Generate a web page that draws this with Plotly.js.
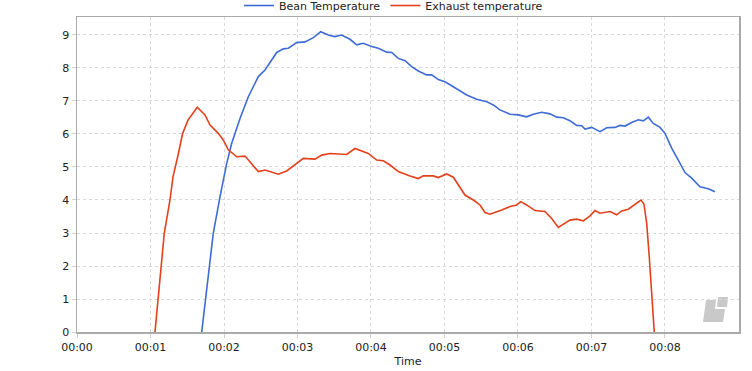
<!DOCTYPE html>
<html><head><meta charset="utf-8">
<script src="https://cdn.plot.ly/plotly-3.0.1.min.js"></script>
<style>html,body{margin:0;padding:0;background:#fff}#chart{width:752px;height:371px}</style>
</head><body><div id="chart"></div>
<script>
// time in minutes
const beanTime = [1.697,1.786,1.854,1.946,2.037,2.105,2.218,2.331,2.467,2.558,2.717,2.807,2.875,2.989,3.102,3.215,3.316,3.419,3.510,3.601,3.714,3.805,3.895,4.009,4.099,4.214,4.282,4.371,4.463,4.554,4.644,4.758,4.826,4.916,5.007,5.120,5.302,5.438,5.574,5.664,5.755,5.891,6.004,6.118,6.208,6.322,6.435,6.526,6.616,6.707,6.799,6.867,6.912,7.003,7.116,7.207,7.320,7.388,7.456,7.547,7.637,7.705,7.773,7.841,7.932,8.000,8.091,8.181,8.272,8.363,8.476,8.589,8.680];
const beanTemp = [0,1.68,2.99,4.10,5.11,5.72,6.47,7.13,7.74,7.94,8.47,8.58,8.60,8.77,8.79,8.92,9.10,9.00,8.95,9.00,8.87,8.70,8.75,8.65,8.60,8.48,8.47,8.29,8.22,8.04,7.91,7.79,7.79,7.65,7.58,7.43,7.18,7.05,6.98,6.88,6.73,6.60,6.58,6.52,6.60,6.66,6.61,6.51,6.49,6.40,6.26,6.25,6.15,6.20,6.07,6.19,6.20,6.26,6.24,6.35,6.43,6.40,6.51,6.32,6.20,6.02,5.57,5.21,4.83,4.66,4.40,4.34,4.25];
const exhaustTime = [1.061,1.116,1.188,1.265,1.306,1.370,1.438,1.510,1.637,1.741,1.810,1.922,1.990,2.059,2.173,2.286,2.354,2.467,2.558,2.671,2.739,2.853,2.966,3.079,3.238,3.329,3.442,3.669,3.782,3.873,3.963,4.078,4.167,4.259,4.371,4.531,4.643,4.712,4.848,4.916,5.030,5.120,5.188,5.279,5.392,5.483,5.551,5.619,5.778,5.891,5.982,6.037,6.118,6.231,6.367,6.458,6.548,6.616,6.707,6.799,6.888,6.980,7.048,7.116,7.252,7.343,7.411,7.501,7.615,7.673,7.714,7.751,7.786,7.819,7.854];
const exhaustTemp = [0,1.27,3.00,4.00,4.70,5.31,6.02,6.42,6.81,6.58,6.27,6.02,5.82,5.52,5.31,5.33,5.16,4.86,4.91,4.84,4.78,4.88,5.06,5.26,5.24,5.36,5.41,5.38,5.56,5.48,5.41,5.21,5.19,5.06,4.86,4.73,4.65,4.73,4.73,4.68,4.79,4.69,4.45,4.15,4.00,3.85,3.62,3.57,3.70,3.80,3.85,3.95,3.85,3.68,3.65,3.44,3.17,3.27,3.39,3.42,3.37,3.52,3.68,3.60,3.65,3.55,3.67,3.72,3.92,4.00,3.88,3.29,2.28,1.27,0];
const xTickVals = [0,1,2,3,4,5,6,7,8];
const xTickText = ["00:00","00:01","00:02","00:03","00:04","00:05","00:06","00:07","00:08"];

const W=752,H=371,L=77,R=13,T=17,B=39;
const pw=W-L-R, ph=H-T-B;
function px(x){return (x-L)/pw;} function py(y){return (H-B-y)/ph;}
const logoBig = `M ${px(706)} ${py(300)} L ${px(716)} ${py(300)} L ${px(715)} ${py(309)} L ${px(725)} ${py(309)} L ${px(723)} ${py(322)} L ${px(703)} ${py(322)} Z`;
const logoSmall = `M ${px(718)} ${py(297)} L ${px(728)} ${py(297)} L ${px(727)} ${py(307)} L ${px(717)} ${py(307)} Z`;

const data = [
 {x: beanTime, y: beanTemp, type:'scatter', mode:'lines', name:'Bean Temperature', line:{color:'#3d6cd6', width:1.6}},
 {x: exhaustTime, y: exhaustTemp, type:'scatter', mode:'lines', name:'Exhaust temperature', line:{color:'#e4401b', width:1.6}}
];
const font = {family:'DejaVu Sans, sans-serif', size:11, color:'#222'};
const layout = {
 width:W, height:H, margin:{l:L,r:R,t:T,b:B,autoexpand:false},
 paper_bgcolor:'#fff', plot_bgcolor:'#fff', font: font,
 showlegend:true,
 legend:{orientation:'h', x:0.478, xanchor:'center', y:1.0825, yref:'paper', yanchor:'top', font:font, bgcolor:'rgba(0,0,0,0)', itemwidth:30, borderwidth:0},
 xaxis:{range:[0,9.007], tickvals:xTickVals, ticktext:xTickText, showgrid:true, gridcolor:'#d8d8d8', griddash:'3px,3px', gridwidth:1,
   showline:true, linecolor:'#aaaaaa', linewidth:1.5, mirror:true, ticks:'outside', ticklen:4, tickcolor:'#d0d0d0', zeroline:false,
   title:{text:'Time', font:font, standoff:4}, tickfont:font, automargin:false},
 yaxis:{range:[0,9.545], dtick:1, tick0:0, showgrid:true, gridcolor:'#d8d8d8', griddash:'3px,3px', gridwidth:1,
   showline:true, linecolor:'#aaaaaa', linewidth:1.5, mirror:true, ticks:'outside', ticklen:4, tickcolor:'#d0d0d0', zeroline:false, tickfont:font, automargin:false},
 shapes:[
  {type:'path', xref:'paper', yref:'paper', path:logoBig, fillcolor:'#c9c9c9', line:{width:0}, layer:'below'},
  {type:'path', xref:'paper', yref:'paper', path:logoSmall, fillcolor:'#c9c9c9', line:{width:0}, layer:'below'}
 ]
};
Plotly.newPlot('chart', data, layout, {displayModeBar:false, staticPlot:true});
</script></body></html>
